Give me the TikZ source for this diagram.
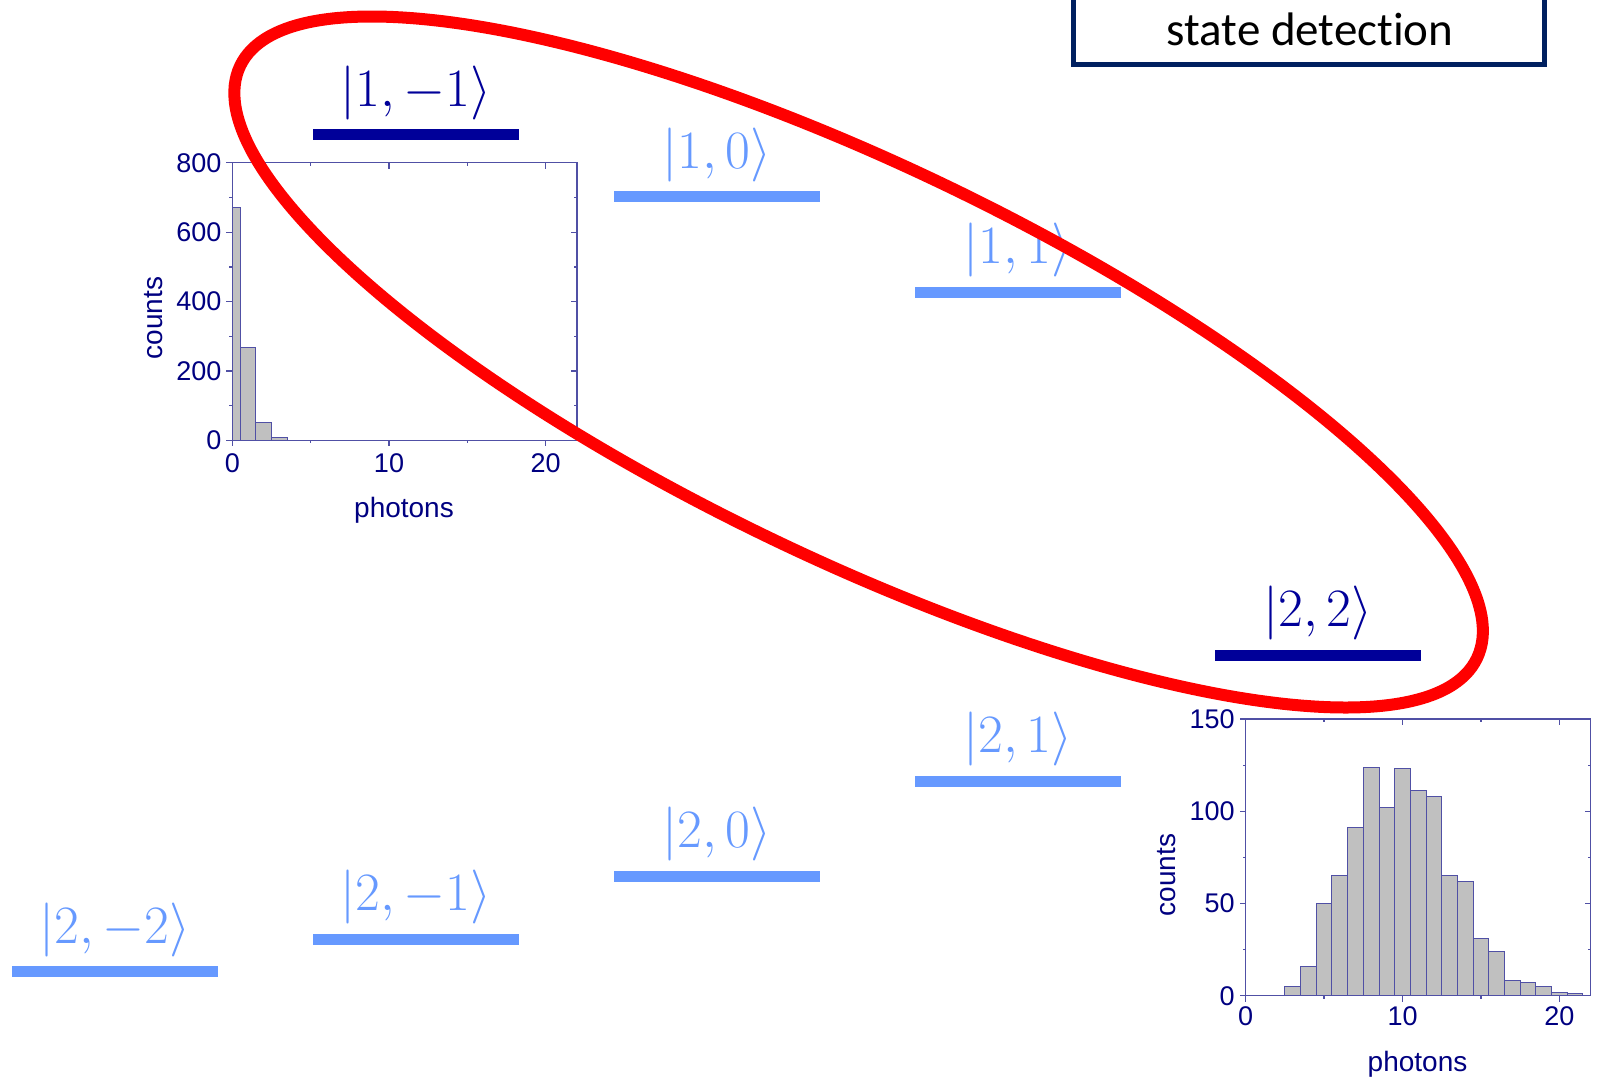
\RequirePackage{fix-cm}
\documentclass[tikz,border=0pt]{standalone}
\usepackage{fontspec}
\newfontfamily\axisfont{Liberation Sans}
\newfontfamily\boxfont[Ligatures=NoCommon]{Carlito}
\definecolor{levdark}{RGB}{0,0,153}
\definecolor{levlight}{RGB}{102,153,255}
\definecolor{axisblue}{RGB}{0,0,128}
\definecolor{framblue}{RGB}{80,80,165}
\definecolor{bargray}{RGB}{192,192,192}
\definecolor{boxnavy}{RGB}{0,32,96}
\tikzset{
  levelbar/.style={line width=5.5pt},
  ketlabel/.style={inner sep=0pt,font=\fontsize{27}{30}\selectfont},
  histframe/.style={draw=framblue,line width=0.65pt},
  histbar/.style={fill=bargray,draw=framblue,line width=0.5pt},
  ticklabel/.style={inner sep=0pt,text=axisblue,font=\axisfont\fontsize{13.5}{15}\selectfont},
  axistitle/.style={inner sep=0pt,text=axisblue,font=\axisfont\fontsize{14}{16}\selectfont},
  oval/.style={draw=red,line width=6pt},
}
\newcommand{\statelevel}[5]{\draw[levelbar,#4] (#2,#3)--++(206,0);
  \node[ketlabel,text=#4] (#1) at ({#2+103},{#3-42}) {$|#5\rangle$};}

\begin{document}
\begin{tikzpicture}[x=0.5pt,y=-0.5pt]
\path[use as bounding box] (0,0) rectangle (1599,1082);
\clip (0,0) rectangle (1599,1082);
\draw[boxnavy,line width=2.5pt] (1073,-20) rectangle (1544,64);
\node[inner sep=0pt,anchor=base,font=\boxfont\fontsize{23.5}{26}\selectfont] (title) at (1310,45) {state detection};
\statelevel{k1m}{313}{134.5}{levdark}{1,-1}
\statelevel{k10}{614}{196.8}{levlight}{1,0}
\statelevel{k11}{915}{292}{levlight}{1,1}
\statelevel{k22}{1215}{655.3}{levdark}{2,2}
\statelevel{k21}{915}{781}{levlight}{2,1}
\statelevel{k20}{614}{876}{levlight}{2,0}
\statelevel{k2m}{313}{939.2}{levlight}{2,-1}
\statelevel{k2mm}{12}{971.5}{levlight}{2,-2}
\begin{scope}[xshift=116.15pt,yshift=-220.15pt,x=7.835pt,y=0.17344pt]
\foreach \n/\c in {0/670,1/267,2/51,3/8}{
  \pgfmathsetmacro{\lft}{max(\n-0.5,0)}
  \draw[histbar] (\lft,0) rectangle (\n+0.5,\c);}
\draw[histframe] (0,0) rectangle (22,800);
\foreach \v in {0,200,...,800}{
  \draw[histframe] (0,\v)--++(-3pt,0) (22,\v)--++(-3pt,0);
  \node[ticklabel,anchor=east] (ay\v) at ([xshift=-5.3pt]0,\v) {\v};}
\foreach \v in {100,300,...,700}
  \draw[histframe] (0,\v)--++(-1.5pt,0) (22,\v)--++(-1.5pt,0);
\foreach \v in {0,10,20}{
  \draw[histframe] (\v,0)--++(0,-3pt) (\v,800)--++(0,-3pt);
  \node[ticklabel,anchor=north] (ax\v) at ([yshift=-6.5pt]\v,0) {\v};}
\foreach \v in {5,15}
  \draw[histframe] (\v,0)--++(0,-1.5pt) (\v,800)--++(0,-1.5pt);
\end{scope}
\node[axistitle] (phA) at (404,510) {photons};
\node[axistitle,rotate=90] (ctA) at (154,318) {counts};
\begin{scope}[xshift=622.85pt,yshift=-497.85pt,x=7.84pt,y=0.9222pt]
\foreach \n/\c in {3/5,4/16,5/50,6/65,7/91,8/124,9/102,10/123,11/111,12/108,
  13/65,14/62,15/31,16/24,17/8,18/7,19/5,20/2,21/1}
  \draw[histbar] (\n-0.5,0) rectangle (\n+0.5,\c);
\draw[histframe] (0,0) rectangle (22,150);
\foreach \v in {0,50,100,150}{
  \draw[histframe] (0,\v)--++(-3pt,0) (22,\v)--++(-3pt,0);
  \node[ticklabel,anchor=east] (by\v) at ([xshift=-5.3pt]0,\v) {\v};}
\foreach \v in {25,75,125}
  \draw[histframe] (0,\v)--++(-1.5pt,0) (22,\v)--++(-1.5pt,0);
\foreach \v in {0,10,20}{
  \draw[histframe] (\v,0)--++(0,-3pt) (\v,150)--++(0,-3pt);
  \node[ticklabel,anchor=north] (bx\v) at ([yshift=-5.5pt]\v,0) {\v};}
\foreach \v in {5,15}
  \draw[histframe] (\v,0)--++(0,-1.5pt) (\v,150)--++(0,-1.5pt);
\end{scope}
\node[axistitle] (phB) at (1417.5,1064) {photons};
\node[axistitle,rotate=90] (ctB) at (1167,875) {counts};
\draw[oval,rotate around={-25.6:(858.6,362)}] (858.6,362) ellipse[x radius=685.7,y radius=197];
\end{tikzpicture}
\end{document}
